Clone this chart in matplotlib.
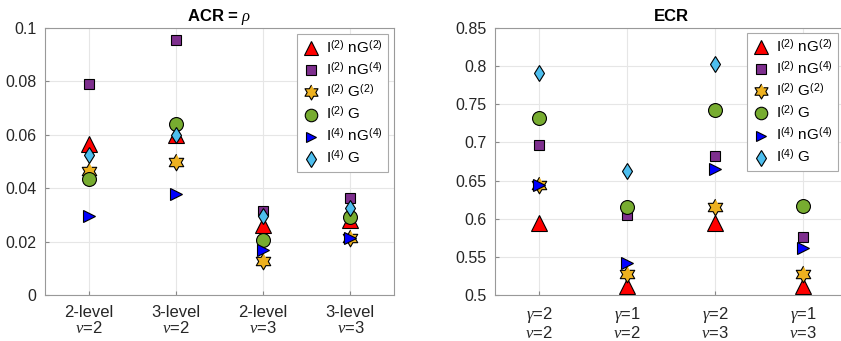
import numpy as np
import matplotlib
matplotlib.use("Agg")
import matplotlib.pyplot as plt

plt.rcParams['font.family'] = ['Liberation Sans', 'DejaVu Sans']
plt.rcParams['mathtext.fontset'] = 'custom'
plt.rcParams['mathtext.rm'] = 'Liberation Sans'
plt.rcParams['mathtext.it'] = 'Liberation Serif:italic'
plt.rcParams['mathtext.bf'] = 'Liberation Sans:bold'

# etiquetas de categorias
acr_cats = ['2-level\n$\\nu$=2', '3-level\n$\\nu$=2', '2-level\n$\\nu$=3', '3-level\n$\\nu$=3']
ecr_cats = ['$\\gamma$=2\n$\\nu$=2', '$\\gamma$=1\n$\\nu$=2', '$\\gamma$=2\n$\\nu$=3', '$\\gamma$=1\n$\\nu$=3']

series_names = ['I$^{(2)}$ nG$^{(2)}$', 'I$^{(2)}$ nG$^{(4)}$', 'I$^{(2)}$ G$^{(2)}$',
                'I$^{(2)}$ G', 'I$^{(4)}$ nG$^{(4)}$', 'I$^{(4)}$ G']

# ACR = rho
acr_I2nG2 = [0.0567, 0.0600, 0.0261, 0.0280]
acr_I2nG4 = [0.0792, 0.0954, 0.0315, 0.0362]
acr_I2G2 = [0.0463, 0.0498, 0.0126, 0.0215]
acr_I2G = [0.0436, 0.0640, 0.0207, 0.0292]
acr_I4nG4 = [0.0295, 0.0380, 0.0170, 0.0212]
acr_I4G = [0.0526, 0.0600, 0.0297, 0.0325]

# ECR
ecr_I2nG2 = [0.594, 0.512, 0.594, 0.512]
ecr_I2nG4 = [0.696, 0.605, 0.682, 0.576]
ecr_I2G2 = [0.644, 0.527, 0.615, 0.528]
ecr_I2G = [0.732, 0.616, 0.742, 0.617]
ecr_I4nG4 = [0.644, 0.542, 0.665, 0.561]
ecr_I4G = [0.791, 0.663, 0.803, 0.720]

acr_data = [acr_I2nG2, acr_I2nG4, acr_I2G2, acr_I2G, acr_I4nG4, acr_I4G]
ecr_data = [ecr_I2nG2, ecr_I2nG4, ecr_I2G2, ecr_I2G, ecr_I4nG4, ecr_I4G]

# hexagrama (estrella de 6 puntas, como en MATLAB)
ang = np.pi / 2 + np.arange(12) * np.pi / 6
rad = np.where(np.arange(12) % 2 == 0, 1.0, 1 / np.sqrt(3))
hexagrama = np.column_stack([rad * np.cos(ang), rad * np.sin(ang)])

# estilos (colores MATLAB)
estilos = [
    dict(marker='^', color='#FF0000', ms=11),
    dict(marker='s', color='#7E2F8E', ms=7.5),
    dict(marker=hexagrama, color='#EDB120', ms=12),
    dict(marker='o', color='#77AC30', ms=10),
    dict(marker='>', color='#0000FF', ms=8.5),
    dict(marker='d', color='#4DBEEE', ms=8.5),
]

fig = plt.figure(figsize=(8.41, 3.41), dpi=100)
ax1 = fig.add_axes([45 / 841, 46 / 341, 349 / 841, 267 / 341])
ax2 = fig.add_axes([495 / 841, 46 / 341, 352 / 841, 267 / 341])

tick_color = '#262626'
x = np.arange(1, 5)


def dibujar(ax, datos, cats, titulo, ylim, yticks, yticklabels):
    for vals, est in zip(datos, estilos):
        ax.plot(x, vals, linestyle='none', marker=est['marker'], markersize=est['ms'],
                markerfacecolor=est['color'], markeredgecolor='black', markeredgewidth=0.8)
    ax.set_xlim(0.5, 4.5)
    ax.set_ylim(*ylim)
    ax.set_xticks(x)
    ax.set_xticklabels(cats, fontsize=12, linespacing=1.0, color=tick_color)
    ax.set_yticks(yticks)
    ax.set_yticklabels(yticklabels, fontsize=11.5, color=tick_color)
    ax.tick_params(direction='in', length=3, color='#888888', pad=6)
    ax.tick_params(axis='x', pad=7)
    ax.grid(True, color='#e6e6e6', linewidth=0.8)
    ax.set_axisbelow(True)
    for s in ax.spines.values():
        s.set_color('#999999')
        s.set_linewidth(0.8)
    ax.set_title(titulo, fontsize=12, fontweight='bold', pad=5)
    leg = ax.legend(series_names, loc='upper right', fontsize=11, frameon=True, fancybox=False,
                    framealpha=1, edgecolor='#aaaaaa', handlelength=1.2, handletextpad=0.35,
                    labelspacing=0.32, borderpad=0.35, borderaxespad=0.4, markerscale=0.9)
    leg.set_zorder(10)
    leg.get_frame().set_linewidth(0.8)
    return leg


dibujar(ax1, acr_data, acr_cats, 'ACR = $\\rho$', (0, 0.1),
        [0, 0.02, 0.04, 0.06, 0.08, 0.1], ['0', '0.02', '0.04', '0.06', '0.08', '0.1'])
leg2 = dibujar(ax2, ecr_data, ecr_cats, 'ECR', (0.5, 0.85),
               [0.5, 0.55, 0.6, 0.65, 0.7, 0.75, 0.8, 0.85],
               ['0.5', '0.55', '0.6', '0.65', '0.7', '0.75', '0.8', '0.85'])

# la leyenda derecha queda dentro de la imagen
leg2.set_bbox_to_anchor((838 / 841, 1 - 33 / 341), transform=fig.transFigure)
leg2._loc = 1
leg2.borderaxespad = 0

fig.savefig('out.png', dpi=100)
